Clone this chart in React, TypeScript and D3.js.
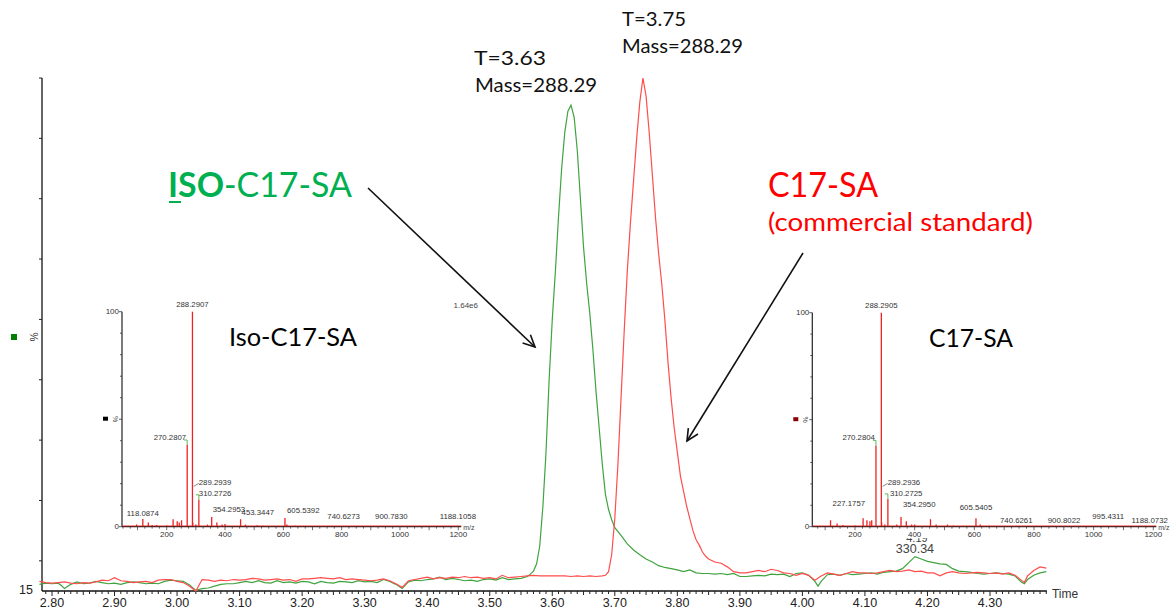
import React from "react";
import * as d3 from "d3";

// ---------------- DATA ----------------
// main chromatogram: [time (min), intensity %]
const greenTrace: [number, number][] = [
  [2.78,16.1],[2.79,16.3],[2.80,16.2],[2.81,16.3],[2.815,15.9],[2.82,15.4],[2.83,16.1],[2.84,16.5],[2.85,16.2],[2.86,16.3],
  [2.87,16.6],[2.88,16.4],[2.89,16.2],[2.90,16.3],[2.91,16.1],[2.92,16.4],[2.93,16.5],[2.94,16.4],[2.95,16.2],[2.96,16.3],
  [2.97,16.2],[2.98,16.6],[2.99,16.8],[3.00,16.7],[3.01,16.6],[3.02,16.0],[3.03,15.1],[3.04,15.4],[3.05,15.5],[3.06,15.8],
  [3.07,16.1],[3.08,16.2],[3.09,16.2],[3.10,16.4],[3.11,16.6],[3.12,16.4],[3.13,16.7],[3.14,16.4],[3.15,16.3],[3.16,16.7],
  [3.17,16.4],[3.18,16.5],[3.19,16.3],[3.20,16.6],[3.21,16.5],[3.22,16.2],[3.23,16.6],[3.24,16.4],[3.25,16.3],[3.26,16.6],
  [3.27,16.5],[3.28,16.4],[3.29,16.7],[3.30,16.5],[3.31,16.6],[3.32,16.4],[3.33,16.9],[3.34,16.6],[3.35,16.1],[3.36,15.4],
  [3.37,16.5],[3.38,16.8],[3.39,16.7],[3.40,16.9],[3.41,17.0],[3.42,17.3],[3.43,16.9],[3.44,17.1],[3.45,16.9],[3.46,16.7],
  [3.47,16.8],[3.48,16.6],[3.49,16.9],[3.50,17.0],[3.51,16.8],[3.52,17.2],[3.53,16.9],[3.54,17.0],[3.55,17.1],[3.56,17.4],
  [3.565,17.8],[3.57,18.3],[3.575,19.5],[3.58,22.5],[3.585,29],[3.59,38],[3.595,50],[3.60,60],[3.605,68],[3.61,77],
  [3.615,85],[3.62,91],[3.625,94.5],[3.63,95.5],[3.635,93.5],[3.64,88],[3.645,80],[3.65,72],[3.655,66],[3.66,61],
  [3.665,55],[3.67,48],[3.675,42],[3.68,36],[3.685,31],[3.69,28.5],[3.695,26.8],[3.70,25.5],[3.71,24.2],[3.72,22.8],
  [3.73,21.8],[3.74,21.0],[3.75,20.3],[3.76,19.8],[3.77,19.2],[3.78,18.9],[3.79,18.7],[3.80,18.5],[3.81,18.2],[3.82,18.5],
  [3.83,18.0],[3.84,17.9],[3.85,17.9],[3.86,17.8],[3.87,17.9],[3.88,17.7],[3.89,17.9],[3.90,17.4],[3.91,17.4],[3.92,17.5],
  [3.93,17.6],[3.94,17.5],[3.95,17.8],[3.96,17.7],[3.97,17.8],[3.98,17.4],[3.99,17.9],[4.00,18.0],[4.01,17.6],[4.02,16.6],
  [4.025,15.8],[4.03,16.6],[4.04,17.7],[4.05,17.8],[4.06,17.6],[4.07,17.9],[4.08,17.7],[4.09,17.8],[4.10,17.9],[4.11,18.0],
  [4.12,17.8],[4.13,18.1],[4.14,18.2],[4.15,18.3],[4.16,18.7],[4.17,19.7],[4.18,20.7],[4.19,20.3],[4.20,19.9],[4.21,19.7],
  [4.22,19.5],[4.23,19.4],[4.24,18.7],[4.25,18.3],[4.26,18.2],[4.27,18.1],[4.28,17.9],[4.29,17.8],[4.30,17.9],[4.31,18.0],
  [4.32,17.9],[4.33,17.8],[4.34,17.5],[4.35,16.5],[4.355,16.2],[4.36,16.9],[4.37,17.6],[4.38,18.0],[4.39,18.2],
];

const redTrace: [number, number][] = [
  [2.78,16.6],[2.79,16.4],[2.80,16.3],[2.81,16.4],[2.82,16.5],[2.83,16.3],[2.84,16.2],[2.85,16.4],[2.86,16.3],[2.87,16.5],
  [2.88,16.8],[2.89,16.7],[2.90,17.2],[2.91,16.7],[2.92,16.6],[2.93,16.4],[2.94,16.5],[2.95,16.6],[2.96,16.4],[2.97,16.8],
  [2.98,16.9],[2.99,16.9],[3.00,16.6],[3.01,16.4],[3.02,15.8],[3.03,15.0],[3.04,16.9],[3.05,16.8],[3.06,16.6],[3.07,16.8],
  [3.08,16.7],[3.09,16.9],[3.10,16.8],[3.11,16.9],[3.12,17.1],[3.13,17.0],[3.14,16.8],[3.15,16.9],[3.16,17.0],[3.17,16.8],
  [3.18,16.9],[3.19,16.6],[3.20,17.0],[3.21,17.0],[3.22,17.1],[3.23,17.2],[3.24,17.1],[3.25,17.0],[3.26,17.2],[3.27,16.9],
  [3.28,17.0],[3.29,16.9],[3.30,16.8],[3.31,16.7],[3.32,16.8],[3.33,17.0],[3.34,16.7],[3.35,16.2],[3.36,15.6],[3.37,16.7],
  [3.38,16.9],[3.39,17.1],[3.40,17.3],[3.41,17.0],[3.42,17.2],[3.43,17.1],[3.44,17.3],[3.45,17.2],[3.46,17.4],[3.47,17.2],
  [3.48,17.3],[3.49,17.1],[3.50,17.2],[3.51,17.0],[3.52,17.6],[3.53,17.2],[3.54,17.3],[3.55,17.4],[3.56,17.5],[3.57,17.6],
  [3.58,17.5],[3.59,17.5],[3.60,17.5],[3.61,17.5],[3.62,17.5],[3.63,17.4],[3.64,17.5],[3.65,17.4],[3.66,17.5],[3.67,17.4],
  [3.68,17.5],[3.685,17.6],[3.69,18.2],[3.695,21],[3.70,27],[3.705,36],[3.71,47],[3.715,58],[3.72,68],[3.725,76],
  [3.73,83],[3.735,90],[3.74,96],[3.745,100],[3.75,97],[3.755,91],[3.76,84],[3.765,77],[3.77,71],[3.775,66],
  [3.78,60],[3.785,53],[3.79,47],[3.795,42],[3.80,38],[3.805,34],[3.81,31.5],[3.815,29],[3.82,27],[3.825,25],
  [3.83,23.5],[3.835,22.6],[3.84,21.5],[3.845,20.8],[3.85,20.3],[3.86,19.8],[3.87,19.6],[3.88,19.0],[3.89,18.2],[3.90,18.0],
  [3.91,18.0],[3.92,18.2],[3.93,18.4],[3.94,18.2],[3.95,18.6],[3.96,18.4],[3.97,18.0],[3.98,17.9],[3.99,17.6],[4.00,17.9],
  [4.01,17.6],[4.02,16.8],[4.03,17.5],[4.04,18.0],[4.05,17.8],[4.06,17.6],[4.07,17.9],[4.08,18.2],[4.09,18.0],[4.10,18.0],
  [4.11,17.9],[4.12,18.0],[4.13,18.2],[4.14,18.4],[4.15,18.2],[4.16,18.3],[4.17,18.5],[4.18,18.2],[4.19,18.3],[4.20,18.0],
  [4.21,18.0],[4.22,17.5],[4.23,18.0],[4.24,18.2],[4.25,18.0],[4.26,17.9],[4.27,18.0],[4.28,18.1],[4.29,18.0],[4.30,17.9],
  [4.31,18.0],[4.32,17.8],[4.33,18.0],[4.34,17.6],[4.35,16.8],[4.355,16.4],[4.36,17.5],[4.37,18.4],[4.38,19.0],[4.39,18.8],
];

const timeTickLabels = [2.8, 2.9, 3.0, 3.1, 3.2, 3.3, 3.4, 3.5, 3.6, 3.7, 3.8, 3.9, 4.0, 4.1, 4.2, 4.3];
const yTickValues = [20, 30, 40, 50, 60, 70, 80, 90, 100];

// mass spectra: [m/z, relative intensity %]
const isoSpectrum: [number, number][] = [
  [97, 1], [118.0874, 3.6], [137, 2], [150, 0.8], [165, 0.8], [200, 0.6], [222, 3.5], [236, 2.5], [243, 2], [251, 3],
  [270.2807, 38], [288.2907, 100], [289.2939, 2], [300, 1], [310.2726, 12.5], [340, 1], [354.2953, 4.5], [372, 2],
  [390, 1], [400, 1.2], [453.3447, 3.5], [470, 1], [510, 0.7], [530, 0.5], [605.5392, 4], [612, 1], [640, 0.4],
];
const isoLabels: [number, number][] = [
  [288.2907, 100], [270.2807, 38], [289.2939, 2], [310.2726, 12.5], [118.0874, 3.6], [354.2953, 4.5],
  [453.3447, 3.5], [605.5392, 4], [740.6273, 0.3], [900.7830, 0.3], [1188.1058, 0.3],
];

const c17Spectrum: [number, number][] = [
  [118, 3], [140, 1.5], [160, 0.8], [200, 0.6], [227.1757, 4], [240, 3], [250, 2.5], [256, 3], [270.2804, 38],
  [288.2905, 100], [289.2936, 2], [300, 1], [310.2725, 13], [340, 1], [354.295, 4.5], [372, 2.5], [390, 1],
  [400, 1], [453, 3.5], [472, 1], [510, 1], [530, 0.5], [605.5405, 4], [620, 1], [650, 0.4],
];
const c17Labels: [number, number][] = [
  [288.2905, 100], [270.2804, 38], [289.2936, 2], [310.2725, 13], [227.1757, 4], [354.295, 4.5],
  [605.5405, 4], [740.6261, 0.3], [900.8022, 0.3], [995.4311, 0.3], [1188.0732, 0.3],
];

const mzTickLabels = [200, 400, 600, 800, 1000, 1200];
const insetYTicks = [0, 10, 20, 30, 40, 50, 60, 70, 80, 90, 100];

// ---------------- LAYOUT / STYLE ----------------
const AX = "'Liberation Sans', Arial, sans-serif";
const CAL = "Lato, 'Open Sans', sans-serif";
const GREEN = "#3fa33f";
const RED = "#ff4d4d";

// label placement rules (anchor, dx, dy) keyed by label text
const isoLabelStyle: Record<string, [string, number, number]> = {
  "288.2907": ["middle", 0, -5],
  "270.2807": ["end", -1, -5],
  "289.2939": ["start", 6, -37],
  "310.2726": ["start", 0, -4],
  "118.0874": ["middle", 0, -3],
  "354.2953": ["start", 1, -5],
  "453.3447": ["start", 1, -4],
  "605.5392": ["start", 2, -5],
  "740.6273": ["start", 3, -7],
  "900.7830": ["start", 4, -7],
  "1188.1058": ["middle", 3, -7],
};
const c17LabelStyle: Record<string, [string, number, number]> = {
  "288.2905": ["middle", 0, -5],
  "270.2804": ["end", -1, -5],
  "289.2936": ["start", 6, -37],
  "310.2725": ["start", 2, -3],
  "227.1757": ["end", 2, -12],
  "354.2950": ["start", 2, -10],
  "605.5405": ["middle", 0, -8],
  "740.6261": ["middle", 0, -3],
  "900.8022": ["middle", 0, -3],
  "995.4311": ["start", 0, -7],
  "1188.0732": ["middle", 0, -3],
};

function Inset({
  spectrum, labels, labelStyle, x0, x1, top, bottom, left, squareColor, title, titleX, titleLen,
}: any) {
  const xs = d3.scaleLinear().domain([200, 1200]).range([x0, x1]);
  const ys = d3.scaleLinear().domain([0, 100]).range([bottom, top]);
  const axisEnd = xs(1210);
  const minorTicks = d3.range(2, 49).map((i) => i * 25);
  return (
    <g>
      <rect x={left - 30} y={top - 14} width={axisEnd - left + 50} height={bottom - top + 25.5} fill="#fff" />
      {/* y axis */}
      <line x1={left} x2={left} y1={top} y2={bottom} stroke="#222" strokeWidth={1.2} />
      {insetYTicks.map((v) => (
        <line key={v} x1={left - (v % 50 === 0 ? 3 : 2)} x2={left} y1={ys(v)} y2={ys(v)} stroke="#333" strokeWidth={0.8} />
      ))}
      <text x={left - 3} y={ys(100)} fontFamily={AX} fontSize={8} fill="#333" textAnchor="end" dominantBaseline="middle">100</text>
      <text x={left - 3} y={ys(0)} fontFamily={AX} fontSize={8} fill="#333" textAnchor="end" dominantBaseline="middle">0</text>
      <rect x={left - 19} y={ys(50) - 2.5} width={5} height={4} fill={squareColor} />
      <text transform={`translate(${left - 9},${ys(50)}) rotate(90)`} fontFamily={AX} fontSize={7} fill="#555" textAnchor="middle">%</text>
      {/* peaks */}
      {spectrum.map(([mz, v]: [number, number], i: number) => (
        <line key={i} x1={xs(mz)} x2={xs(mz)} y1={bottom} y2={ys(v)} stroke="#ee2222" strokeWidth={1.3} />
      ))}
      {/* x axis */}
      <line x1={left} x2={axisEnd} y1={bottom} y2={bottom} stroke="#222" strokeWidth={1.2} />
      <line x1={left} x2={axisEnd} y1={bottom - 0.8} y2={bottom - 0.8} stroke="#ee2222" strokeWidth={0.8} />
      {minorTicks.filter((m) => xs(m) > left && xs(m) < axisEnd).map((m) => (
        <line key={m} x1={xs(m)} x2={xs(m)} y1={bottom} y2={bottom + (m % 100 === 0 ? 3.5 : 2)} stroke="#333" strokeWidth={0.7} />
      ))}
      {mzTickLabels.map((m) => (
        <text key={m} x={xs(m)} y={bottom + 8} fontFamily={AX} fontSize={8} fill="#333" textAnchor="middle" dominantBaseline="middle">{m}</text>
      ))}
      <text x={axisEnd + 2} y={bottom + 1} fontFamily={AX} fontSize={7} fill="#444" dominantBaseline="middle">m/z</text>
      {/* labels */}
      {labels.map(([mz, v]: [number, number]) => {
        const key = mz.toFixed(4);
        const [anchor, dx, dy] = labelStyle[key] || ["middle", 0, -5];
        const px = xs(mz);
        const py = ys(v);
        return (
          <text key={key} x={px + dx} y={py + dy} fontFamily={AX} fontSize={7.8} fill="#333" textAnchor={anchor}>{key}</text>
        );
      })}
      {/* connector marks */}
      {labels.filter(([, v]: [number, number]) => v > 10 && v < 50).map(([mz, v]: [number, number]) => (
        <polyline key={"c" + mz} points={`${xs(mz) - 3},${ys(v) - 5} ${xs(mz)},${ys(v) - 5} ${xs(mz)},${ys(v)}`} fill="none" stroke="#33aa33" strokeWidth={0.8} />
      ))}
      {labels.filter(([, v]: [number, number]) => v < 3 && v > 1).map(([mz, v]: [number, number]) => (
        <line key={"d" + mz} x1={xs(mz) + 1} y1={ys(v) - 36} x2={xs(mz) + 6} y2={ys(v) - 39} stroke="#555" strokeWidth={0.7} />
      ))}
      <text x={titleX} y={top + 34} fontFamily={CAL} fontSize={25} fill="#000" textLength={titleLen} lengthAdjust="spacingAndGlyphs">{title}</text>
    </g>
  );
}

function Arrow({ x1, y1, x2, y2 }: { x1: number; y1: number; x2: number; y2: number }) {
  const a = Math.atan2(y2 - y1, x2 - x1);
  const L = 13;
  const s = 0.45;
  const p1 = [x2 - L * Math.cos(a - s), y2 - L * Math.sin(a - s)];
  const p2 = [x2 - L * Math.cos(a + s), y2 - L * Math.sin(a + s)];
  return (
    <g stroke="#111" strokeWidth={1.6} fill="none">
      <line x1={x1} y1={y1} x2={x2} y2={y2} />
      <polyline points={`${p1[0]},${p1[1]} ${x2},${y2} ${p2[0]},${p2[1]}`} />
    </g>
  );
}

export default function App() {
  const x = d3.scaleLinear().domain([2.8, 4.3]).range([52, 990]);
  const y = d3.scaleLinear().domain([15, 100]).range([591, 78]);
  const line = d3.line<[number, number]>().x((d) => x(d[0])).y((d) => y(d[1]));
  const axisLeft = 42;
  const axisRight = x(4.391);
  const minor = d3.range(279, 440).map((i) => i);

  return (
    <svg width={1176} height={613} style={{ position: "absolute", left: 0, top: 0, background: "#fff" }}>
      {/* main axes */}
      <line x1={axisLeft} x2={axisLeft} y1={y(100)} y2={y(15)} stroke="#111" strokeWidth={1.3} />
      <line x1={axisLeft} x2={axisRight} y1={y(15)} y2={y(15)} stroke="#111" strokeWidth={1.3} />
      {yTickValues.map((v) => (
        <line key={v} x1={axisLeft - 3} x2={axisLeft} y1={y(v)} y2={y(v)} stroke="#222" strokeWidth={1} />
      ))}
      <text x={33} y={y(15)} fontFamily={AX} fontSize={12.5} fill="#222" textAnchor="end" dominantBaseline="middle">15</text>
      <rect x={11} y={334} width={6} height={6} fill="#008000" />
      <text transform={`translate(30,337) rotate(90)`} fontFamily={AX} fontSize={10} fill="#333" textAnchor="middle">%</text>
      {minor.filter((i) => x(i / 100) > axisLeft && x(i / 100) < axisRight).map((i) => (
        <line key={i} x1={x(i / 100)} x2={x(i / 100)} y1={y(15)} y2={y(15) + (i % 10 === 0 ? 5 : i % 5 === 0 ? 4 : 3)} stroke="#222" strokeWidth={1} />
      ))}
      {timeTickLabels.map((t) => (
        <text key={t} x={x(t)} y={604} fontFamily={AX} fontSize={12.5} fill="#222" textAnchor="middle" dominantBaseline="middle">{t.toFixed(2)}</text>
      ))}
      <text x={axisRight + 5} y={595} fontFamily={AX} fontSize={12} fill="#333" dominantBaseline="middle">Time</text>

      {/* traces */}
      <path d={line(greenTrace) || ""} fill="none" stroke={GREEN} strokeWidth={1.2} />
      <path d={line(redTrace) || ""} fill="none" stroke={RED} strokeWidth={1.2} />

      {/* bump labels */}
      <text x={x(4.18) + 2} y={539} fontFamily={AX} fontSize={11} fill="#444" textAnchor="middle" dominantBaseline="middle">4.19</text>
      <text x={x(4.18)} y={550} fontFamily={AX} fontSize={12.5} fill="#444" textAnchor="middle" dominantBaseline="middle">330.34</text>

      {/* insets */}
      <Inset spectrum={isoSpectrum} labels={isoLabels} labelStyle={isoLabelStyle}
        x0={166.7} x1={458.3} top={311.7} bottom={526.7} left={122} squareColor="#000"
        title="Iso-C17-SA" titleX={229} titleLen={128} />
      <text x={478} y={308} fontFamily={AX} fontSize={8} fill="#444" textAnchor="end">1.64e6</text>
      <Inset spectrum={c17Spectrum} labels={c17Labels} labelStyle={c17LabelStyle}
        x0={855} x1={1153.3} top={312.7} bottom={526.7} left={812.3} squareColor="#8b0000"
        title="C17-SA" titleX={929} titleLen={84} />

      {/* annotations */}
      <text x={474} y={65} fontFamily={CAL} fontSize={20} fill="#111" textLength={72} lengthAdjust="spacingAndGlyphs">T=3.63</text>
      <text x={475} y={92} fontFamily={CAL} fontSize={20} fill="#111" textLength={122} lengthAdjust="spacingAndGlyphs">Mass=288.29</text>
      <text x={622} y={26} fontFamily={CAL} fontSize={20} fill="#111" textLength={64} lengthAdjust="spacingAndGlyphs">T=3.75</text>
      <text x={622} y={53} fontFamily={CAL} fontSize={20} fill="#111" textLength={121} lengthAdjust="spacingAndGlyphs">Mass=288.29</text>

      <text x={168} y={197} fontFamily={CAL} fontSize={34} fill="#00b050" textLength={184} lengthAdjust="spacingAndGlyphs">
        <tspan fontWeight="bold">ISO</tspan>
        <tspan>-C17-SA</tspan>
      </text>
      <line x1={169} x2={181} y1={202} y2={202} stroke="#00b050" strokeWidth={2} />
      <text x={768} y={197} fontFamily={CAL} fontSize={34} fill="#ff0000" textLength={110} lengthAdjust="spacingAndGlyphs">C17-SA</text>
      <text x={768} y={231} fontFamily={CAL} fontSize={25} fill="#ff0000" textLength={265} lengthAdjust="spacingAndGlyphs">(commercial standard)</text>

      <Arrow x1={368} y1={188} x2={535} y2={347} />
      <Arrow x1={803} y1={253} x2={687} y2={441} />
    </svg>
  );
}
